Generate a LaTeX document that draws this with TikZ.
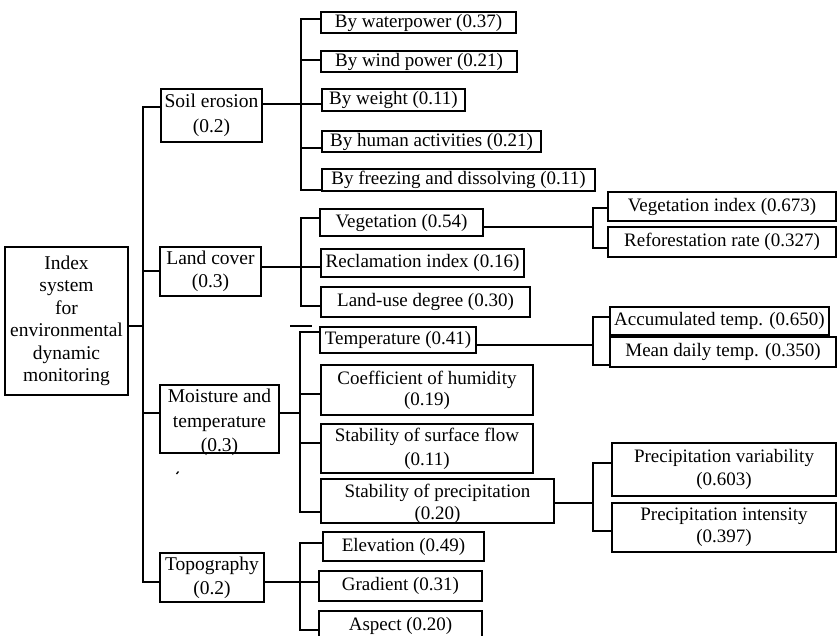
\documentclass[tikz,border=0pt]{standalone}
\usepackage{fontspec}
\setmainfont{Liberation Serif}
\begin{document}
\begin{tikzpicture}[x=1pt,y=-1pt,
  bx/.style={draw, line width=1.3pt, inner sep=0pt, align=center, font=\fontsize{19}{23}\selectfont},
  bxr/.style={draw, line width=1.3pt, inner sep=0pt, font=\fontsize{19}{23}\selectfont},
  ln/.style={line width=1.3pt}]
\useasboundingbox (0,0) rectangle (838,635);
\clip (0,0) rectangle (838,635);

% level 0 and 1
\node[bx, minimum width=123, minimum height=148, font=\fontsize{19.5}{22.5}\selectfont] (root) at (66.5,321) {Index\\system\\for\\environmental\\dynamic\\monitoring};
\node[bx, minimum width=101, minimum height=53, font=\fontsize{19.5}{25}\selectfont] (soil) at (211.5,115.5) {Soil erosion\\(0.2)};
\node[bx, minimum width=101, minimum height=49, font=\fontsize{19.5}{23}\selectfont] (land) at (210.5,271.5) {Land cover\\(0.3)};
\node[bxr, minimum width=119, minimum height=68] (moist) at (219.5,419) {\raisebox{-8.4pt}[0pt][0pt]{\fontsize{19.5}{24.5}\selectfont\begin{tabular}{@{}c@{}}Moisture and\\temperature\\(0.3)\end{tabular}}};
\node[bx, minimum width=104, minimum height=49, font=\fontsize{19.5}{24}\selectfont] (topo) at (212,577.5) {Topography\\(0.2)};

% level 2
\node[bx, minimum width=195, minimum height=21] (w1) at (418.5,22.5) {By waterpower (0.37)};
\node[bx, minimum width=196, minimum height=21] (w2) at (419,61.5) {By wind power (0.21)};
\node[bx, minimum width=143, minimum height=22] (w3) at (393.5,100) {By weight (0.11)};
\node[bx, minimum width=219, minimum height=21] (w4) at (431.5,141.5) {By human activities (0.21)};
\node[bx, minimum width=273, minimum height=22] (w5) at (458.5,180) {By freezing and dissolving (0.11)};

\node[bx, minimum width=163, minimum height=27] (l1) at (401.5,222.5) {Vegetation (0.54)};
\node[bx, minimum width=203, minimum height=28] (l2) at (422.5,263) {Reclamation index (0.16)};
\node[bx, minimum width=209, minimum height=30] (l3) at (425.5,302) {Land-use degree (0.30)};

\node[bx, minimum width=156, minimum height=26] (m1) at (398,340) {Temperature (0.41)};
\node[bx, minimum width=212, minimum height=50, font=\fontsize{19}{21}\selectfont] (m2) at (427,390) {Coefficient of humidity\\(0.19)};
\node[bx, minimum width=212, minimum height=49, font=\fontsize{19}{24}\selectfont] (m3) at (427,448.5) {Stability of surface flow\\(0.11)};
\node[bxr, minimum width=233, minimum height=44] (m4) at (437.5,501) {\raisebox{-7.9pt}[0pt][0pt]{\fontsize{19}{22}\selectfont\begin{tabular}{@{}c@{}}Stability of precipitation\\(0.20)\end{tabular}}};

\node[bx, minimum width=161, minimum height=29] (t1) at (403.5,546.5) {Elevation (0.49)};
\node[bx, minimum width=163, minimum height=30] (t2) at (400.5,586) {Gradient (0.31)};
\node[bx, minimum width=163, minimum height=29] (t3) at (400.5,625.5) {Aspect (0.20)};

% level 3
\node[bx, minimum width=228, minimum height=29] (r1) at (722,206.5) {Vegetation index (0.673)};
\node[bx, minimum width=228, minimum height=30] (r2) at (722,242) {Reforestation rate (0.327)};
\node[bx, minimum width=219, minimum height=28] (r3) at (719.5,321) {Accumulated temp. (0.650)};
\node[bx, minimum width=226, minimum height=30] (r4) at (723,352) {Mean daily temp. (0.350)};
\node[bx, minimum width=224, minimum height=53] (r5) at (724,469.5) {Precipitation variability\\(0.603)};
\node[bx, minimum width=224, minimum height=49, font=\fontsize{19}{22}\selectfont] (r6) at (724,527.5) {Precipitation intensity\\(0.397)};

% bus coordinates
\coordinate (b0) at (143,0);
\coordinate (b1) at (301,0);
\coordinate (b2) at (301,0);
\coordinate (b3) at (300,0);
\coordinate (b4) at (300,0);
\coordinate (b5) at (593,0);

% main bus
\draw[ln] (root.east |- 0,326) -- (b0 |- 0,326);
\draw[ln] (soil.west |- 0,107) -| (b0 |- 0,582) -- (topo.west |- 0,582);
\draw[ln] (b0 |- 0,271) -- (land.west |- 0,271);
\draw[ln] (b0 |- 0,413) -- (moist.west |- 0,413);

% soil erosion
\draw[ln] (w1.west |- 0,19) -| (b1 |- 0,190) -- (w5.west |- 0,190);
\draw[ln] (soil.east |- 0,104) -- (w3.west |- 0,104);
\draw[ln] (b1 |- 0,60) -- (w2.west |- 0,60);
\draw[ln] (b1 |- 0,148) -- (w4.west |- 0,148);

% land cover
\draw[ln] (l1.west |- 0,218) -| (b2 |- 0,306) -- (l3.west |- 0,306);
\draw[ln] (land.east |- 0,267) -- (l2.west |- 0,267);

% moisture
\draw[ln] (m1.west |- 0,332) -| (b3 |- 0,512) -- (m4.west |- 0,512);
\draw[ln] (moist.east |- 0,413) -- (b3 |- 0,413);
\draw[ln] (b3 |- 0,394) -- (m2.west |- 0,394);
\draw[ln] (b3 |- 0,443) -- (m3.west |- 0,443);

% topography
\draw[ln] (t1.west |- 0,543) -| (b4 |- 0,630) -- (t3.west |- 0,630);
\draw[ln] (topo.east |- 0,582) -- (t2.west |- 0,582);

% third level
\draw[ln] (r1.west |- 0,208) -| (b5 |- 0,248) -- (r2.west |- 0,248);
\draw[ln] (l1.east |- 0,227) -- (b5 |- 0,227);
\draw[ln] (r3.west |- 0,317) -| (b5 |- 0,365) -- (r4.west |- 0,365);
\draw[ln] (m1.east |- 0,345) -- (b5 |- 0,345);
\draw[ln] (r5.west |- 0,463) -| (b5 |- 0,531) -- (r6.west |- 0,531);
\draw[ln] (m4.east |- 0,503) -- (b5 |- 0,503);

% stray marks of the scan
\draw[ln] (290,326) -- (312,326);
\draw[line width=1.3pt] (176.5,474) -- (178.5,471.5);
\end{tikzpicture}
\end{document}
